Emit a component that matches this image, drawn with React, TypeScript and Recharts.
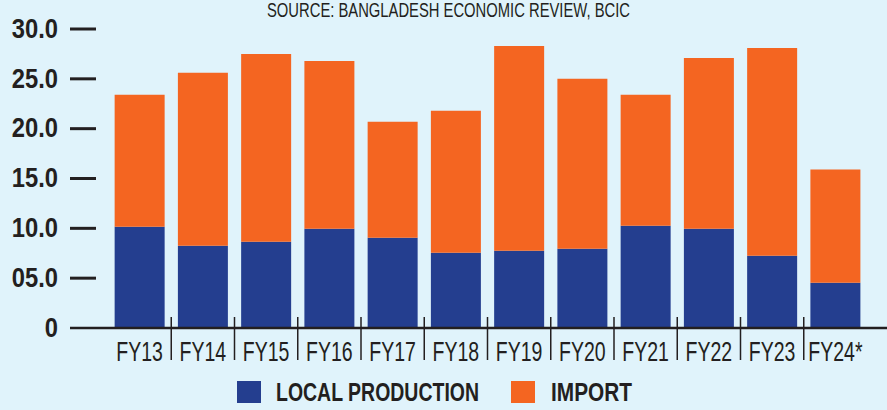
import React from "react";
import { Bar, BarChart, XAxis, YAxis } from "recharts";

const CATEGORIES = ["FY13", "FY14", "FY15", "FY16", "FY17", "FY18", "FY19", "FY20", "FY21", "FY22", "FY23", "FY24*"];
const LOCAL_PRODUCTION = [10.15, 8.25, 8.65, 9.95, 9.05, 7.55, 7.75, 7.95, 10.25, 9.95, 7.25, 4.55];
const IMPORT = [13.25, 17.35, 18.85, 16.85, 11.65, 14.25, 20.55, 17.05, 13.15, 17.15, 20.85, 11.35];
const Y_TICKS = [0, 5, 10, 15, 20, 25, 30];
const Y_TICK_LABELS = ["0", "05.0", "10.0", "15.0", "20.0", "25.0", "30.0"];

const WIDTH = 887;
const HEIGHT = 410;
const Y_AXIS_W = 70;
const PAD_L = 38;
const PAD_R = 20;
const HALF_STEP = (WIDTH - Y_AXIS_W - PAD_L - PAD_R) / CATEGORIES.length / 2;

const BG = "#e0f3fb";
const BLUE = "#243e8f";
const ORANGE = "#f46521";
const INK = "#231f20";
// no condensed face installed, so Liberation Sans gets squeezed horizontally
const FONT = "'Liberation Sans', Arial, sans-serif";

const data = CATEGORIES.map((year, i) => ({
  year,
  local: LOCAL_PRODUCTION[i],
  import: IMPORT[i],
}));

const YTick = (props: any) => {
  const { x, y, payload, index } = props;
  return (
    <g>
      <text
        transform={`translate(${x - 12} ${y + 8.7}) scale(0.88 1)`}
        textAnchor="end"
        fontFamily={FONT}
        fontWeight={700}
        fontSize={27}
        fill={INK}
      >
        {Y_TICK_LABELS[index]}
      </text>
      {payload.value !== 0 ? (
        <line x1={x} x2={x + 26} y1={y} y2={y} stroke={INK} strokeWidth={3} />
      ) : null}
    </g>
  );
};

const XTick = (props: any) => {
  const { x, y, payload, index } = props;
  return (
    <g>
      <text
        transform={`translate(${x} ${y + 33}) scale(0.71 1)`}
        textAnchor="middle"
        fontFamily={FONT}
        fontSize={27.5}
        fill={INK}
      >
        {payload.value}
      </text>
      {index < CATEGORIES.length - 1 ? (
        <line
          x1={x + HALF_STEP}
          x2={x + HALF_STEP}
          y1={y - 11}
          y2={y + 32}
          stroke={INK}
          strokeWidth={1.5}
        />
      ) : null}
    </g>
  );
};

export default function App() {
  return (
    <div
      style={{
        position: "fixed",
        left: 0,
        top: 0,
        width: WIDTH,
        height: HEIGHT,
        background: BG,
      }}
    >
      <BarChart
        width={WIDTH}
        height={HEIGHT}
        data={data}
        margin={{ top: 29, right: 0, bottom: 0, left: 0 }}
        barCategoryGap="10.5%"
      >
        <XAxis
          dataKey="year"
          height={82}
          padding={{ left: PAD_L, right: PAD_R }}
          axisLine={{ stroke: INK, strokeWidth: 2.5 }}
          tickLine={false}
          tickSize={0}
          tickMargin={0}
          interval={0}
          tick={<XTick />}
        />
        <YAxis
          width={Y_AXIS_W}
          domain={[0, 30]}
          ticks={Y_TICKS}
          axisLine={false}
          tickLine={false}
          tickSize={0}
          tickMargin={0}
          interval={0}
          tick={<YTick />}
        />
        <Bar dataKey="local" stackId="a" fill={BLUE} isAnimationActive={false} />
        <Bar dataKey="import" stackId="a" fill={ORANGE} isAnimationActive={false} />
      </BarChart>
      <svg
        width={WIDTH}
        height={HEIGHT}
        style={{ position: "absolute", left: 0, top: 0, pointerEvents: "none" }}
      >
        <text
          x={267}
          y={16.5}
          textLength={363}
          lengthAdjust="spacingAndGlyphs"
          fontFamily={FONT}
          fontSize={20}
          fill={INK}
        >
          SOURCE: BANGLADESH ECONOMIC REVIEW, BCIC
        </text>
        <rect x={237} y={381} width={24} height={22} fill={BLUE} />
        <text
          x={276}
          y={401}
          textLength={203}
          lengthAdjust="spacingAndGlyphs"
          fontFamily={FONT}
          fontWeight={700}
          fontSize={25}
          fill={INK}
        >
          LOCAL PRODUCTION
        </text>
        <rect x={511} y={381} width={24} height={22} fill={ORANGE} />
        <text
          x={551}
          y={401}
          textLength={81}
          lengthAdjust="spacingAndGlyphs"
          fontFamily={FONT}
          fontWeight={700}
          fontSize={25}
          fill={INK}
        >
          IMPORT
        </text>
      </svg>
    </div>
  );
}
